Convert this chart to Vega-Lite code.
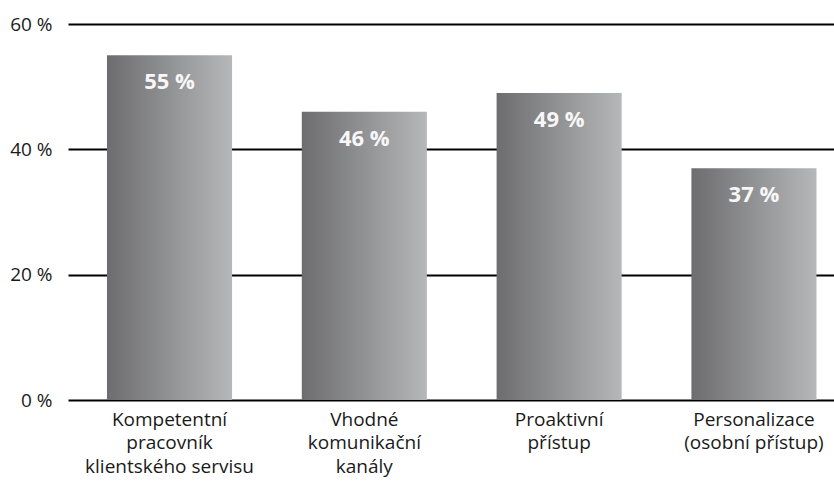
{
  "$schema": "https://vega.github.io/schema/vega-lite/v6.json",
  "width": 766,
  "height": 376,
  "autosize": {"type": "none"},
  "padding": {"left": 68, "top": 24, "right": 0, "bottom": 82},
  "background": "white",
  "config": {"view": {"stroke": null}, "font": "Open Sans"},
  "data": {
    "values": [
      {"kategorie": "Kompetentní pracovník klientského servisu", "hodnota": 55, "popisek": "55 %"},
      {"kategorie": "Vhodné komunikační kanály", "hodnota": 46, "popisek": "46 %"},
      {"kategorie": "Proaktivní přístup", "hodnota": 49, "popisek": "49 %"},
      {"kategorie": "Personalizace (osobní přístup)", "hodnota": 37, "popisek": "37 %"}
    ]
  },
  "encoding": {
    "x": {
      "field": "kategorie",
      "type": "nominal",
      "sort": null,
      "scale": {"paddingInner": 0.358, "paddingOuter": 0.145, "align": 0.69},
      "axis": {
        "title": null,
        "domain": false,
        "ticks": false,
        "labelAngle": 0,
        "labelFontSize": 19,
        "labelColor": "#1a1a1a",
        "labelPadding": 10,
        "labelLineHeight": 23.5,
        "labelBaseline": "top",
        "labelExpr": "datum.value == 'Kompetentní pracovník klientského servisu' ? ['Kompetentní', 'pracovník', 'klientského servisu'] : datum.value == 'Vhodné komunikační kanály' ? ['Vhodné', 'komunikační', 'kanály'] : datum.value == 'Proaktivní přístup' ? ['Proaktivní', 'přístup'] : ['Personalizace', '(osobní přístup)']"
      }
    },
    "y": {
      "field": "hodnota",
      "type": "quantitative",
      "scale": {"domain": [0, 60]},
      "axis": {
        "title": null,
        "domain": false,
        "ticks": false,
        "values": [0, 20, 40, 60],
        "labelExpr": "datum.value + ' %'",
        "labelFontSize": 19,
        "labelColor": "#1a1a1a",
        "labelPadding": 16,
        "grid": true,
        "gridColor": "#000000",
        "gridWidth": 2,
        "gridOpacity": 1
      }
    }
  },
  "layer": [
    {
      "mark": {
        "type": "bar",
        "color": {
          "gradient": "linear",
          "x1": 0, "x2": 1, "y1": 0, "y2": 0,
          "stops": [
            {"offset": 0, "color": "#6d6d6f"},
            {"offset": 1, "color": "#b6b7b9"}
          ]
        }
      }
    },
    {
      "mark": {
        "type": "text",
        "baseline": "top",
        "dy": 17,
        "fontSize": 22,
        "fontWeight": "bold",
        "letterSpacing": 0.6,
        "color": "#f7f7f7"
      },
      "encoding": {
        "text": {"field": "popisek", "type": "nominal"}
      }
    }
  ]
}
